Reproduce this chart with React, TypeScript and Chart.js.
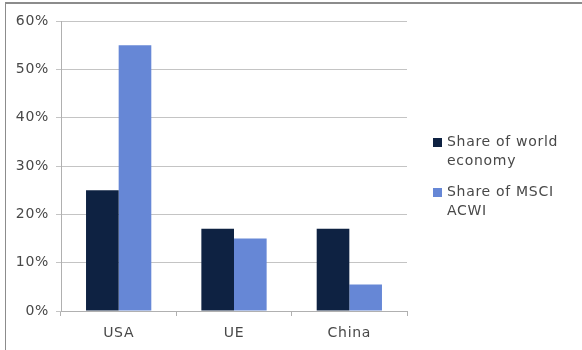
import React, { useEffect, useRef } from "react";
import { Chart, registerables } from "chart.js";

Chart.register(...registerables);

const categories = ["USA", "UE", "China"];
const worldEconomy = [25, 17, 17];
const msciAcwi = [55, 15, 5.5];
const seriesLabels = [
  ["Share of world", "economy"],
  ["Share of MSCI", "ACWI"],
];
const seriesColors = ["#0e2242", "#6687d6"];
const yMin = 0;
const yMax = 60;
const yStep = 10;

const FONT = "'DejaVu Sans', sans-serif";
const TEXT = "#484848";
const SPACING = "0.7px";

const spacingPlugin = {
  id: "spacing",
  beforeDraw(chart: any) {
    (chart.ctx as any).letterSpacing = SPACING;
  },
};

const legendPlugin = {
  id: "wrapLegend",
  afterDraw(chart: any) {
    const { ctx, chartArea } = chart;
    const x0 = chartArea.right + 26;
    const y0 = chartArea.top + 121;
    const lineH = 19;
    const itemGap = 50;
    ctx.save();
    ctx.letterSpacing = SPACING;
    ctx.font = `14px ${FONT}`;
    ctx.textBaseline = "middle";
    ctx.textAlign = "left";
    chart.data.datasets.forEach((ds: any, i: number) => {
      const y = y0 + i * itemGap;
      ctx.fillStyle = ds.backgroundColor;
      ctx.fillRect(x0, y - 4, 9, 9);
      ctx.fillStyle = TEXT;
      (ds.legendLines as string[]).forEach((line, j) => {
        ctx.fillText(line, x0 + 14, y + j * lineH);
      });
    });
    ctx.restore();
  },
};

export default function App() {
  const ref = useRef<HTMLCanvasElement>(null);
  useEffect(() => {
    if (!ref.current) return;
    const chart = new Chart(ref.current, {
      type: "bar",
      data: {
        labels: categories,
        datasets: [
          {
            label: seriesLabels[0].join(" "),
            legendLines: seriesLabels[0],
            data: worldEconomy,
            backgroundColor: seriesColors[0],
            categoryPercentage: 0.566,
            barPercentage: 1,
          } as any,
          {
            label: seriesLabels[1].join(" "),
            legendLines: seriesLabels[1],
            data: msciAcwi,
            backgroundColor: seriesColors[1],
            categoryPercentage: 0.566,
            barPercentage: 1,
          } as any,
        ],
      },
      options: {
        animation: false,
        responsive: false,
        maintainAspectRatio: false,
        layout: { padding: { left: 0, right: 175, top: 21, bottom: 0 } },
        plugins: {
          legend: { display: false },
          tooltip: { enabled: false },
        },
        scales: {
          x: {
            offset: true,
            grid: {
              drawOnChartArea: false,
              drawTicks: true,
              tickLength: 5,
              color: "#b0b0b0",
              offset: true,
            },
            border: { color: "#b0b0b0" },
            ticks: {
              color: TEXT,
              font: { family: FONT, size: 14 },
              padding: 9,
            },
            afterFit: (s: any) => {
              s.height = 39;
            },
          },
          y: {
            min: yMin,
            max: yMax,
            grid: {
              color: "#c4c4c4",
              tickLength: 5,
            },
            border: { color: "#b0b0b0" },
            ticks: {
              stepSize: yStep,
              color: TEXT,
              font: { family: FONT, size: 14 },
              padding: 7,
              callback: (v: any) => `${v}%`,
            },
            afterFit: (s: any) => {
              s.width = 61;
            },
          },
        },
      },
      plugins: [spacingPlugin, legendPlugin],
    });
    return () => chart.destroy();
  }, []);
  return (
    <div
      style={{
        position: "fixed",
        left: 0,
        top: 0,
        width: 582,
        height: 350,
        background: "#fff",
      }}
    >
      <canvas ref={ref} width={582} height={350} style={{ position: "absolute", left: 0, top: 0 }} />
      <div
        style={{
          position: "absolute",
          left: 5,
          top: 2,
          width: 577,
          height: 348,
          borderLeft: "1px solid #8c8c8c",
          borderTop: "2px solid #8c8c8c",
          boxSizing: "border-box",
          pointerEvents: "none",
        }}
      />
    </div>
  );
}
